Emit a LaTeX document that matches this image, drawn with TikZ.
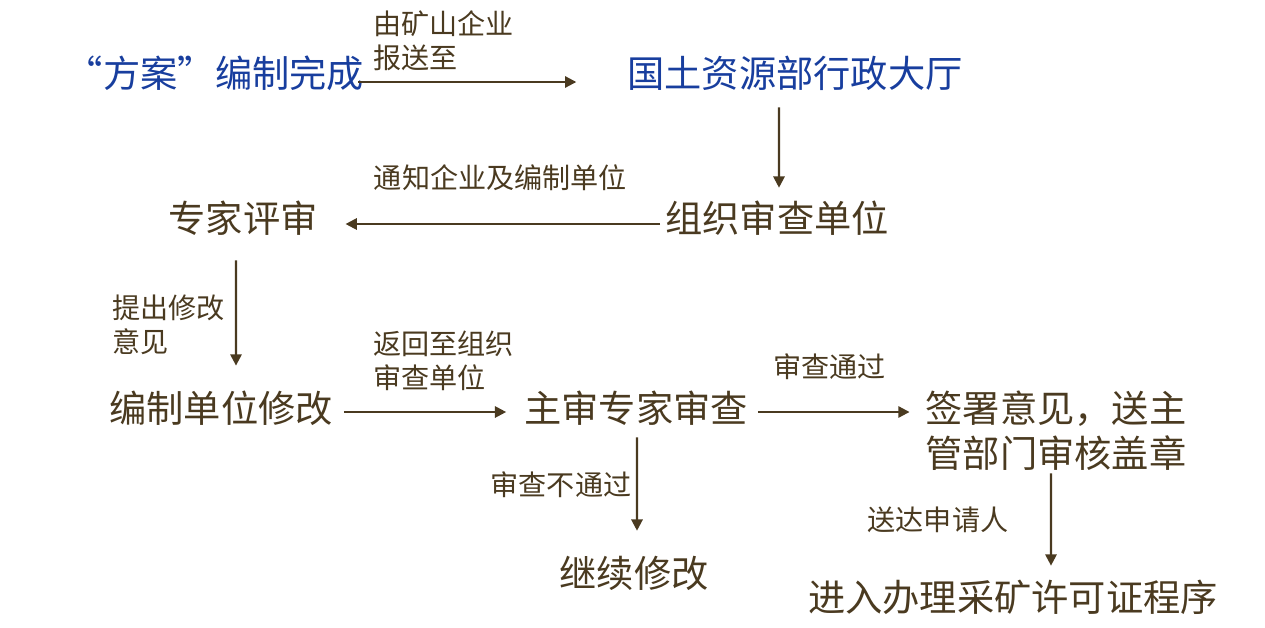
\documentclass[tikz,border=0pt]{standalone}
\usepackage{fontspec}
\setmainfont{Noto Sans CJK SC}
\usetikzlibrary{arrows.meta,positioning}
\definecolor{flowbrown}{RGB}{74,58,32}
\definecolor{flowblue}{RGB}{24,62,158}

\begin{document}
\begin{tikzpicture}[>={Triangle[length=8pt,width=8pt]},line width=1.5pt,color=flowbrown]
\tikzstyle{stage}=[inner sep=0pt,text=flowbrown,font=\fontsize{26.5}{32}\selectfont,align=center]
\tikzstyle{note}=[inner sep=0pt,text=flowbrown,font=\fontsize{20}{24}\selectfont,align=left]
\useasboundingbox (0,0) rectangle (31.625,-15.7);
\node[stage,text=flowblue] (done) at (5.375,-1.825) {“方案”编制完成};
\node[stage,text=flowblue] (hall) at (19.875,-1.825) {国土资源部行政大厅};
\node[stage] (org) at (19.425,-5.45) {组织审查单位};
\node[stage] (expert) at (6.075,-5.45) {专家评审};
\node[stage] (revise) at (5.525,-10.2) {编制单位修改};
\node[stage] (chief) at (15.9,-10.2) {主审专家审查};
\node[stage] (sign) at (26.4,-10.7625) {签署意见，送主\\管部门审核盖章};
\node[stage] (again) at (15.85,-14.325) {继续修改};
\node[stage] (permit) at (25.325,-14.925) {进入办理采矿许可证程序};
% labels
\node[note,anchor=west] (l1) at (9.3,-1.025) {由矿山企业\\报送至};
\node[note] (l2) at (12.5125,-4.45) {通知企业及编制单位};
\node[note,anchor=west] (l3) at (2.775,-8.1125) {提出修改\\意见};
\node[note,anchor=west] (l4) at (9.3,-9.0125) {返回至组织\\审查单位};
\node[note] (l5) at (20.7375,-9.175) {审查通过};
\node[note] (l6) at (14.025,-12.125) {审查不通过};
\node[note] (l7) at (23.45,-13.0) {送达申请人};
% arrows
\draw[->] ([xshift=-0.18cm,yshift=-0.225cm]done.east) -- ([xshift=-1.25cm,yshift=-0.225cm]hall.west);
\draw[->] ([xshift=-0.4cm,yshift=-0.4cm]hall.south) -- ([xshift=0.05cm,yshift=0.3cm]org.north);
\draw[->] ([xshift=-0.1cm,yshift=-0.15cm]org.west) -- ([xshift=0.675cm,yshift=-0.15cm]expert.east);
\draw[->] ([xshift=-0.175cm,yshift=-0.6cm]expert.south) -- ([xshift=0.375cm,yshift=0.6cm]revise.north);
\draw[->] ([xshift=0.25cm,yshift=-0.1cm]revise.east) -- ([xshift=-0.425cm,yshift=-0.1cm]chief.west);
\draw[->] ([xshift=0.225cm,yshift=-0.1cm]chief.east) -- ([xshift=-0.375cm,yshift=0.4625cm]sign.west);
\draw[->] ([xshift=0.025cm,yshift=-0.275cm]chief.south) -- ([xshift=0.075cm,yshift=0.6cm]again.north);
\draw[->] ([xshift=-0.125cm,yshift=-0.05cm]sign.south) -- ([xshift=0.95cm,yshift=0.325cm]permit.north);
\end{tikzpicture}
\end{document}
